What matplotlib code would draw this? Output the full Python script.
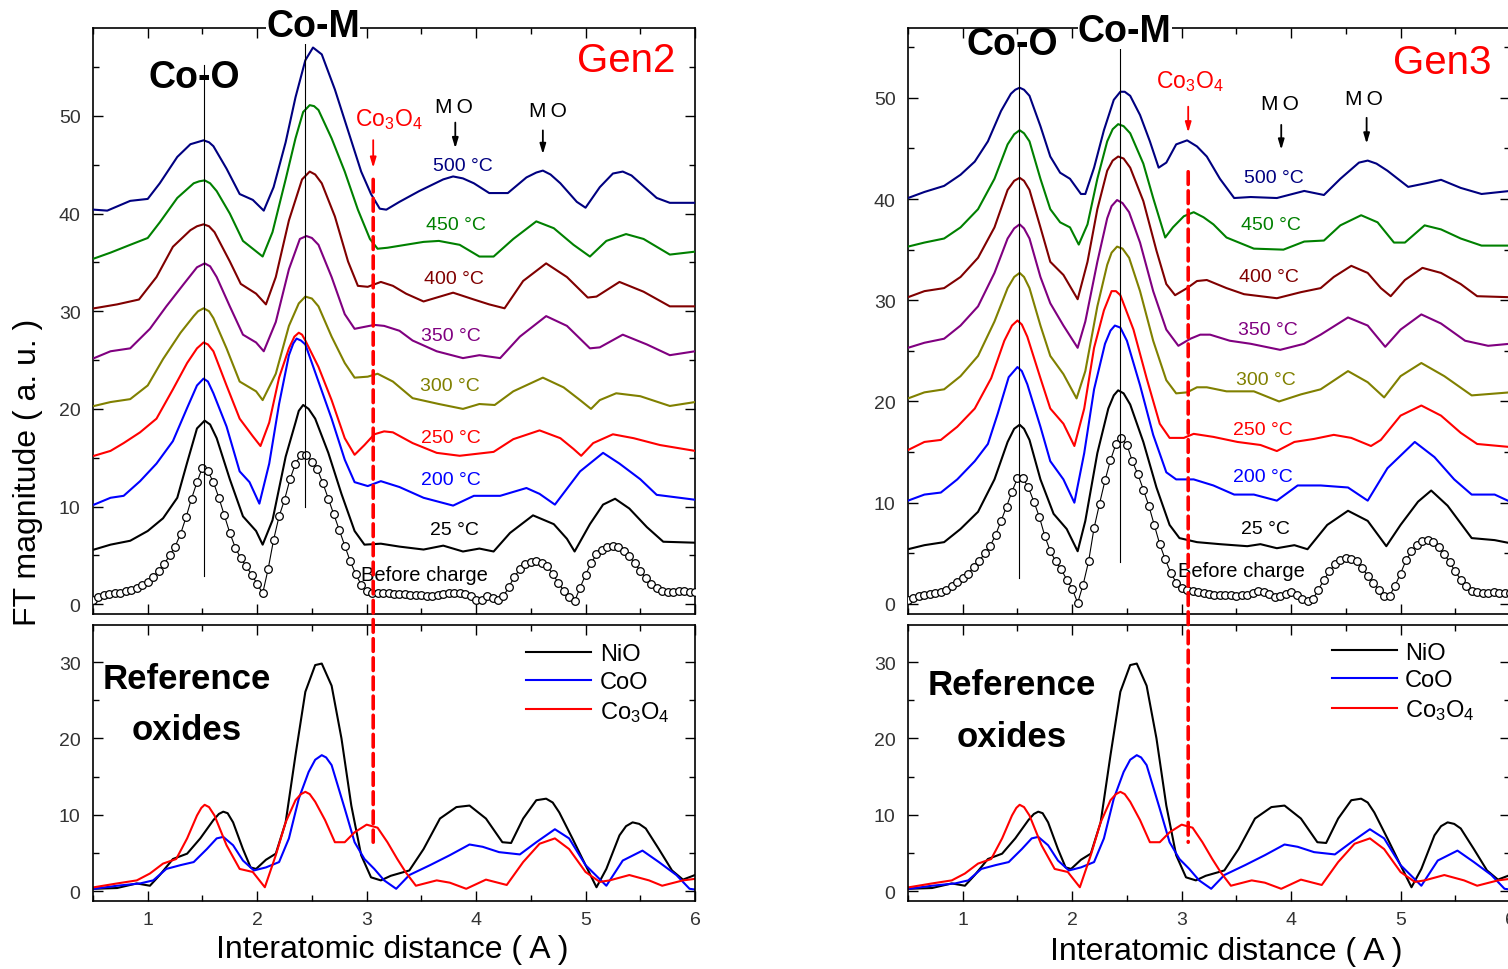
import matplotlib
matplotlib.use("Agg")
import matplotlib.pyplot as plt
from matplotlib.patches import ConnectionPatch
from matplotlib.ticker import MultipleLocator

plt.rcParams['font.family'] = ['Liberation Sans', 'DejaVu Sans']
plt.rcParams['mathtext.fontset'] = 'custom'
plt.rcParams['mathtext.rm'] = 'Liberation Sans'
plt.rcParams['mathtext.it'] = 'Liberation Sans:italic'
plt.rcParams['mathtext.bf'] = 'Liberation Sans:bold'

# ---------------- data ----------------
temps = ["500", "450", "400", "350", "300", "250", "200", "25"]
colors = ["#000080", "#008000", "#800000", "#800080", "#808000", "#ff0000", "#0000ff", "#000000"]

# Gen2 (x in A, FT magnitude with vertical offsets as plotted)
g2_500 = [(0.51,40.4),(0.63,40.3),(0.84,41.3),(1.00,41.5),(1.11,43.1),(1.27,45.8),(1.39,47.1),(1.45,47.3),(1.51,47.5),(1.56,47.3),(1.60,46.9),(1.72,44.6),(1.84,42.0),(1.96,41.4),(2.06,40.3),(2.15,42.7),(2.26,47.3),(2.35,51.9),(2.44,55.7),(2.51,57.0),(2.59,56.3),(2.71,52.7),(2.83,48.5),(2.95,44.3),(3.04,42.0),(3.12,40.5),(3.18,40.4),(3.30,41.2),(3.48,42.3),(3.70,43.5),(3.79,43.8),(3.88,43.6),(3.98,43.1),(4.12,42.1),(4.29,42.1),(4.46,43.7),(4.55,44.2),(4.61,44.4),(4.68,44.0),(4.77,43.1),(4.92,41.2),(5.00,40.6),(5.13,42.7),(5.25,44.1),(5.34,44.3),(5.42,43.9),(5.50,43.1),(5.65,41.6),(5.77,41.1),(6.00,41.1)]
g2_450 = [(0.51,35.4),(0.66,36.0),(0.84,36.8),(1.00,37.5),(1.11,39.1),(1.27,41.6),(1.42,43.1),(1.47,43.3),(1.52,43.4),(1.57,43.1),(1.63,42.3),(1.75,40.0),(1.87,37.2),(1.96,36.4),(2.05,35.6),(2.14,38.1),(2.26,43.5),(2.35,47.7),(2.42,50.4),(2.48,51.1),(2.52,51.0),(2.56,50.6),(2.68,47.7),(2.80,44.3),(2.92,40.4),(3.03,37.4),(3.10,36.4),(3.19,36.5),(3.30,36.7),(3.52,37.1),(3.66,37.2),(3.85,36.8),(4.03,35.6),(4.16,35.6),(4.34,37.4),(4.55,39.2),(4.71,38.5),(4.89,36.8),(5.04,35.6),(5.19,37.2),(5.37,37.9),(5.53,37.4),(5.77,35.8),(6.00,36.1)]
g2_400 = [(0.51,30.3),(0.72,30.7),(0.92,31.2),(1.08,33.5),(1.23,36.6),(1.39,38.3),(1.45,38.7),(1.51,38.9),(1.56,38.7),(1.61,38.1),(1.75,35.1),(1.85,32.8),(1.99,31.8),(2.08,30.7),(2.17,33.5),(2.29,39.3),(2.41,43.5),(2.48,44.3),(2.53,44.0),(2.59,43.1),(2.71,39.7),(2.83,35.1),(2.92,32.6),(3.01,32.5),(3.13,33.0),(3.24,32.6),(3.36,31.8),(3.52,31.0),(3.79,31.9),(3.98,31.2),(4.12,30.7),(4.26,30.3),(4.43,33.1),(4.64,34.9),(4.83,33.5),(5.02,31.4),(5.10,31.5),(5.31,33.0),(5.53,32.0),(5.77,30.5),(6.00,30.5)]
g2_350 = [(0.51,25.2),(0.66,25.9),(0.84,26.2),(1.02,28.2),(1.17,30.5),(1.33,32.8),(1.45,34.5),(1.52,34.9),(1.57,34.6),(1.63,33.5),(1.75,30.5),(1.87,27.6),(1.99,26.8),(2.06,25.9),(2.17,28.9),(2.29,34.3),(2.39,37.4),(2.45,37.7),(2.50,37.5),(2.56,36.8),(2.68,33.5),(2.80,29.7),(2.89,28.2),(2.98,28.4),(3.07,28.6),(3.16,28.5),(3.30,28.0),(3.42,27.0),(3.64,25.9),(3.88,25.2),(4.03,25.5),(4.22,25.2),(4.40,27.4),(4.64,29.5),(4.83,28.5),(5.04,26.2),(5.13,26.3),(5.34,27.6),(5.56,26.6),(5.77,25.5),(6.00,25.9)]
g2_300 = [(0.51,20.3),(0.66,20.7),(0.84,21.0),(1.00,22.4),(1.14,25.1),(1.30,27.8),(1.42,29.5),(1.46,30.0),(1.51,30.3),(1.56,30.0),(1.60,29.3),(1.72,26.2),(1.84,22.8),(1.99,21.8),(2.05,20.9),(2.17,23.6),(2.29,28.5),(2.38,30.8),(2.44,31.5),(2.50,31.3),(2.56,30.5),(2.68,27.4),(2.80,24.7),(2.89,23.2),(3.01,23.3),(3.10,23.6),(3.24,22.8),(3.42,21.1),(3.66,20.5),(3.88,20.0),(4.03,20.5),(4.17,20.4),(4.34,21.8),(4.61,23.2),(4.80,22.2),(4.95,20.9),(5.05,20.0),(5.13,20.9),(5.28,21.6),(5.50,21.3),(5.77,20.3),(6.00,20.7)]
g2_250 = [(0.51,15.2),(0.66,15.7),(0.78,16.5),(0.93,17.6),(1.08,19.0),(1.23,22.0),(1.36,24.7),(1.45,26.2),(1.51,26.8),(1.55,26.6),(1.60,25.9),(1.72,22.4),(1.84,19.0),(1.96,17.2),(2.03,16.2),(2.11,18.6),(2.20,23.2),(2.29,26.2),(2.34,27.4),(2.38,27.8),(2.41,27.6),(2.44,27.0),(2.56,24.3),(2.68,20.9),(2.80,17.0),(2.89,15.3),(2.98,16.3),(3.07,17.4),(3.16,17.7),(3.24,17.6),(3.42,16.5),(3.64,15.5),(3.85,15.2),(4.16,15.6),(4.34,16.9),(4.58,17.8),(4.77,17.0),(4.89,15.9),(4.96,15.2),(5.07,16.5),(5.25,17.4),(5.44,17.0),(5.68,16.3),(6.00,15.7)]
g2_200 = [(0.51,10.2),(0.66,10.9),(0.78,11.1),(0.93,12.6),(1.08,14.4),(1.23,16.7),(1.36,20.1),(1.45,22.4),(1.51,23.1),(1.55,22.8),(1.60,21.6),(1.72,18.2),(1.84,13.6),(1.93,12.5),(2.02,10.3),(2.11,14.4),(2.20,20.5),(2.29,25.5),(2.33,26.7),(2.36,27.2),(2.40,27.0),(2.44,26.6),(2.56,22.8),(2.68,19.0),(2.80,14.8),(2.89,12.5),(3.01,12.1),(3.13,12.6),(3.30,12.0),(3.52,10.9),(3.79,10.1),(3.98,11.1),(4.22,11.1),(4.46,11.9),(4.58,11.3),(4.72,10.2),(4.95,13.6),(5.16,15.5),(5.31,14.4),(5.50,12.8),(5.65,11.2),(6.00,10.7)]
g2_25 = [(0.51,5.6),(0.66,6.1),(0.84,6.5),(1.00,7.5),(1.14,8.8),(1.27,10.9),(1.36,14.5),(1.45,18.0),(1.52,18.8),(1.57,18.4),(1.63,17.0),(1.75,12.8),(1.87,9.0),(1.99,7.5),(2.05,6.1),(2.14,8.6),(2.26,15.1),(2.35,18.6),(2.38,19.8),(2.42,20.4),(2.47,20.0),(2.53,19.0),(2.65,15.5),(2.77,11.3),(2.89,7.5),(2.98,6.1),(3.13,6.2),(3.30,5.9),(3.52,5.6),(3.70,6.0),(3.88,5.4),(4.03,5.7),(4.16,5.4),(4.31,7.3),(4.52,9.1),(4.71,8.2),(4.83,6.7),(4.90,5.4),(5.04,8.2),(5.16,10.2),(5.27,10.8),(5.40,9.8),(5.56,7.9),(5.71,6.4),(6.00,6.3)]
g2_curves = [g2_500, g2_450, g2_400, g2_350, g2_300, g2_250, g2_200, g2_25]

bc_x = [0.50,0.55,0.60,0.65,0.70,0.75,0.80,0.85,0.90,0.95,1.00,1.05,1.10,1.15,1.20,1.25,1.30,1.35,1.40,1.45,
        1.50,1.55,1.60,1.65,1.70,1.75,1.80,1.85,1.90,1.95,2.00,2.05,2.10,2.15,2.20,2.25,2.30,2.35,2.40,2.45,
        2.50,2.55,2.60,2.65,2.70,2.75,2.80,2.85,2.90,2.95,3.00,3.05,3.10,3.15,3.20,3.25,3.30,3.35,3.40,3.45,
        3.50,3.55,3.60,3.65,3.70,3.75,3.80,3.85,3.90,3.95,4.00,4.05,4.10,4.15,4.20,4.25,4.30,4.35,4.40,4.45,
        4.50,4.55,4.60,4.65,4.70,4.75,4.80,4.85,4.90,4.95,5.00,5.05,5.10,5.15,5.20,5.25,5.30,5.35,5.40,5.45,
        5.50,5.55,5.60,5.65,5.70,5.75,5.80,5.85,5.90,5.95,6.00]
g2_before = [0.4,0.7,0.9,1.0,1.1,1.2,1.4,1.5,1.7,2.0,2.3,2.8,3.4,4.1,5.0,5.9,7.2,8.9,10.8,12.5,
             14.0,13.6,12.5,10.9,9.1,7.3,5.8,4.7,3.9,3.0,2.1,1.1,3.6,6.6,9.0,10.7,12.8,14.4,15.3,15.3,
             14.6,13.8,12.4,10.8,9.2,7.6,6.0,4.4,3.1,2.0,1.4,1.1,1.1,1.1,1.1,1.0,1.0,1.0,0.9,0.9,
             0.9,0.8,0.8,0.9,1.0,1.1,1.1,1.1,1.0,0.8,0.4,0.4,0.8,0.6,0.4,0.8,1.8,2.8,3.6,4.1,
             4.3,4.4,4.2,3.9,3.1,2.2,1.4,0.7,0.3,1.7,3.0,4.2,5.1,5.6,5.9,6.0,5.9,5.5,4.9,4.2,
             3.4,2.7,2.1,1.7,1.4,1.3,1.3,1.4,1.4,1.3,1.3]

# Gen3
g3_500 = [(0.50,40.1),(0.65,40.7),(0.83,41.3),(0.98,42.4),(1.11,43.7),(1.23,45.7),(1.35,48.7),(1.44,50.4),(1.48,50.8),(1.52,51.0),(1.56,50.8),(1.61,50.2),(1.71,47.2),(1.80,44.2),(1.89,42.6),(1.98,42.0),(2.08,40.5),(2.12,40.5),(2.20,43.1),(2.29,46.8),(2.38,49.8),(2.44,50.6),(2.48,50.6),(2.53,50.2),(2.62,48.3),(2.71,45.7),(2.79,43.1),(2.86,43.6),(2.95,45.4),(3.05,45.8),(3.14,45.2),(3.23,44.2),(3.35,42.0),(3.48,40.1),(3.63,40.2),(3.87,40.1),(4.12,40.8),(4.30,40.4),(4.45,42.0),(4.62,43.6),(4.70,43.8),(4.78,43.5),(4.88,42.8),(5.07,41.2),(5.25,41.6),(5.37,41.9),(5.55,41.1),(5.74,40.5),(6.00,40.8)]
g3_450 = [(0.50,35.3),(0.65,35.7),(0.83,36.1),(0.98,37.2),(1.14,39.0),(1.29,42.0),(1.41,45.4),(1.47,46.4),(1.52,46.8),(1.56,46.5),(1.61,45.7),(1.71,42.0),(1.80,39.0),(1.89,37.7),(1.98,37.2),(2.06,35.5),(2.14,37.5),(2.23,42.0),(2.32,45.7),(2.37,46.9),(2.42,47.4),(2.47,47.2),(2.53,46.5),(2.65,43.5),(2.74,40.1),(2.85,36.2),(2.92,37.2),(3.02,38.3),(3.11,38.7),(3.20,38.2),(3.29,37.5),(3.41,36.2),(3.66,35.1),(3.93,35.0),(4.12,35.8),(4.30,35.9),(4.45,37.4),(4.64,38.4),(4.79,37.7),(4.94,35.7),(5.04,35.7),(5.22,37.4),(5.37,37.0),(5.55,36.1),(5.74,35.4),(6.00,35.4)]
g3_400 = [(0.50,30.3),(0.65,30.9),(0.83,31.2),(0.98,32.3),(1.14,34.2),(1.29,37.2),(1.41,40.9),(1.47,41.8),(1.52,42.1),(1.56,41.8),(1.61,40.9),(1.71,37.2),(1.80,33.8),(1.92,32.5),(2.05,30.1),(2.14,33.8),(2.23,39.0),(2.32,42.8),(2.37,43.8),(2.42,44.2),(2.47,44.0),(2.53,43.1),(2.65,39.8),(2.77,34.9),(2.86,31.6),(2.94,30.5),(3.05,31.2),(3.14,31.9),(3.23,32.0),(3.41,31.2),(3.57,30.6),(3.87,30.2),(4.09,30.8),(4.27,31.2),(4.39,32.3),(4.55,33.4),(4.70,32.7),(4.82,31.2),(4.91,30.4),(5.04,32.0),(5.20,33.2),(5.37,32.7),(5.55,31.6),(5.70,30.4),(6.00,30.3)]
g3_350 = [(0.50,25.3),(0.65,25.8),(0.83,26.2),(0.98,27.5),(1.14,29.4),(1.29,32.7),(1.41,36.1),(1.47,37.1),(1.52,37.5),(1.56,37.1),(1.61,36.1),(1.71,32.3),(1.80,29.7),(1.92,27.5),(2.05,25.3),(2.12,27.9),(2.23,33.8),(2.32,38.1),(2.36,39.3),(2.41,39.9),(2.46,39.6),(2.52,38.7),(2.62,35.7),(2.74,30.9),(2.86,27.1),(2.97,25.5),(3.08,26.2),(3.17,26.6),(3.26,26.6),(3.44,26.0),(3.63,25.7),(3.90,25.1),(4.12,25.7),(4.27,26.6),(4.52,28.3),(4.70,27.5),(4.86,25.4),(5.00,27.1),(5.19,28.6),(5.37,27.7),(5.59,26.0),(5.80,25.5),(6.00,25.7)]
g3_300 = [(0.50,20.3),(0.65,20.9),(0.83,21.2),(0.98,22.5),(1.14,24.5),(1.29,27.9),(1.41,31.2),(1.47,32.3),(1.52,32.7),(1.56,32.3),(1.61,31.2),(1.71,27.5),(1.80,24.5),(1.92,22.7),(2.04,20.3),(2.12,23.0),(2.23,29.4),(2.32,33.5),(2.36,34.7),(2.41,35.3),(2.46,35.1),(2.52,34.2),(2.62,30.9),(2.74,26.0),(2.86,22.1),(2.95,20.8),(3.05,20.9),(3.14,21.4),(3.23,21.4),(3.41,21.0),(3.66,21.0),(3.89,20.0),(4.09,20.7),(4.27,21.2),(4.52,23.0),(4.70,21.9),(4.85,20.4),(5.00,22.5),(5.19,23.8),(5.40,22.5),(5.65,20.6),(6.00,20.9)]
g3_250 = [(0.50,15.2),(0.65,16.0),(0.80,16.2),(0.95,17.5),(1.11,19.3),(1.26,22.3),(1.38,26.0),(1.45,27.5),(1.50,28.0),(1.54,27.6),(1.59,26.4),(1.71,22.3),(1.80,19.3),(1.92,17.8),(2.02,15.6),(2.11,19.3),(2.20,25.3),(2.29,29.0),(2.36,30.9),(2.40,30.9),(2.44,30.5),(2.56,27.1),(2.68,22.3),(2.80,17.8),(2.89,16.4),(3.02,16.4),(3.11,16.8),(3.29,16.5),(3.51,16.0),(3.72,15.7),(3.87,15.1),(4.03,16.0),(4.21,16.3),(4.39,16.7),(4.55,16.4),(4.73,15.6),(4.82,16.2),(5.00,18.6),(5.19,19.6),(5.37,18.6),(5.55,16.9),(5.70,15.8),(6.00,15.5)]
g3_200 = [(0.50,10.2),(0.65,10.8),(0.80,11.0),(0.95,12.3),(1.11,14.1),(1.23,15.8),(1.32,18.8),(1.42,22.4),(1.50,23.4),(1.54,23.0),(1.59,21.7),(1.71,17.5),(1.80,14.1),(1.92,12.3),(2.02,10.0),(2.11,14.9),(2.20,21.2),(2.30,25.7),(2.35,27.0),(2.39,27.5),(2.44,27.3),(2.50,26.0),(2.62,21.6),(2.74,16.7),(2.86,13.0),(2.95,12.3),(3.11,12.3),(3.29,11.7),(3.48,10.8),(3.66,10.8),(3.87,10.2),(4.06,11.7),(4.27,11.7),(4.52,11.5),(4.70,10.2),(4.88,13.4),(5.13,16.0),(5.31,14.5),(5.49,12.3),(5.65,10.8),(5.86,10.8),(6.00,10.1)]
g3_25 = [(0.50,5.4),(0.65,5.8),(0.83,6.1),(0.98,7.4),(1.14,9.1),(1.29,12.3),(1.41,16.0),(1.47,17.3),(1.52,17.7),(1.56,17.3),(1.61,16.2),(1.71,12.3),(1.83,8.9),(1.95,7.4),(2.05,5.2),(2.12,8.2),(2.23,14.9),(2.33,19.3),(2.38,20.6),(2.42,21.1),(2.47,20.8),(2.53,19.7),(2.65,16.0),(2.77,11.5),(2.89,7.8),(2.98,6.5),(3.14,6.1),(3.35,5.9),(3.60,5.7),(3.72,5.9),(3.87,5.5),(4.03,5.8),(4.15,5.4),(4.33,7.8),(4.52,9.2),(4.70,8.2),(4.87,5.7),(5.00,7.8),(5.16,10.1),(5.28,11.2),(5.43,9.7),(5.65,6.5),(5.86,6.3),(6.00,6.0)]
g3_curves = [g3_500, g3_450, g3_400, g3_350, g3_300, g3_250, g3_200, g3_25]

g3_before = [0.4,0.6,0.8,0.9,1.0,1.1,1.2,1.4,1.8,2.2,2.6,3.0,3.6,4.2,5.0,5.7,6.8,8.2,9.6,11.1,
             12.4,12.4,11.5,10.1,8.6,6.7,5.2,4.2,3.4,2.4,1.5,0.1,1.9,4.2,7.5,9.9,12.2,14.2,15.8,16.4,
             15.7,14.1,12.8,11.3,9.7,7.8,5.9,4.4,3.1,2.1,1.6,1.4,1.3,1.2,1.1,1.0,0.9,0.9,0.9,0.9,
             0.8,0.9,0.9,1.1,1.3,1.2,1.0,0.7,0.8,1.0,1.2,0.9,0.5,0.3,0.5,1.4,2.4,3.2,3.9,4.3,
             4.5,4.4,4.2,3.5,2.8,2.1,1.4,0.8,0.8,1.8,3.0,4.3,5.2,5.8,6.2,6.3,6.1,5.6,4.9,4.1,
             3.2,2.4,1.8,1.3,1.2,1.1,1.1,1.2,1.1,1.1,1.1]

# reference oxides (same in both lower panels)
nio = [(0.51,0.3),(0.72,0.4),(0.90,1.0),(1.02,0.7),(1.11,2.1),(1.23,4.2),(1.36,4.9),(1.48,6.9),(1.60,9.3),(1.65,10.1),(1.69,10.4),(1.73,10.2),(1.78,9.0),(1.87,5.5),(1.94,3.1),(1.99,2.9),(2.08,4.1),(2.17,4.9),(2.26,9.0),(2.35,17.8),(2.44,26.1),(2.53,29.6),(2.59,29.8),(2.68,26.9),(2.77,20.0),(2.86,11.2),(2.95,4.7),(3.04,1.8),(3.13,1.4),(3.22,2.0),(3.39,2.7),(3.52,5.5),(3.67,9.5),(3.82,11.0),(3.94,11.2),(4.09,9.5),(4.24,6.4),(4.32,6.3),(4.43,9.5),(4.55,11.9),(4.64,12.1),(4.70,11.6),(4.76,10.3),(4.88,6.9),(5.00,3.4),(5.10,0.5),(5.19,2.9),(5.31,7.3),(5.37,8.5),(5.43,9.0),(5.49,8.8),(5.55,8.2),(5.67,5.5),(5.79,2.7),(5.89,1.5),(6.00,2.1)]
coo = [(0.51,0.3),(0.72,0.7),(0.93,1.0),(1.05,1.4),(1.17,2.9),(1.30,3.4),(1.42,3.8),(1.54,5.5),(1.63,6.9),(1.69,7.1),(1.78,6.0),(1.87,4.0),(1.97,2.7),(2.08,3.1),(2.20,3.8),(2.29,6.9),(2.38,12.1),(2.47,15.6),(2.53,17.2),(2.59,17.8),(2.63,17.5),(2.68,16.5),(2.80,10.8),(2.89,6.4),(2.98,4.2),(3.07,2.9),(3.16,1.4),(3.27,0.3),(3.39,2.1),(3.58,3.4),(3.76,4.7),(3.94,6.1),(4.06,5.8),(4.21,5.1),(4.40,4.8),(4.55,6.4),(4.72,8.1),(4.85,6.9),(5.00,3.4),(5.19,0.7),(5.34,4.0),(5.52,5.3),(5.67,3.8),(5.83,2.1),(5.95,0.3),(6.00,0.2)]
co3o4 = [(0.51,0.5),(0.72,1.0),(0.90,1.4),(1.02,2.3),(1.14,3.6),(1.26,4.2),(1.36,6.9),(1.45,9.9),(1.49,10.9),(1.52,11.3),(1.56,11.0),(1.61,9.9),(1.72,6.0),(1.84,2.9),(1.96,2.5),(2.07,0.5),(2.17,4.7),(2.26,9.0),(2.35,11.9),(2.40,12.7),(2.44,13.0),(2.48,12.7),(2.53,11.7),(2.62,9.3),(2.71,6.4),(2.80,6.4),(2.89,7.7),(3.00,8.7),(3.10,8.3),(3.19,6.4),(3.28,4.2),(3.36,2.4),(3.45,0.7),(3.64,1.4),(3.76,1.1),(3.91,0.3),(4.09,1.5),(4.28,0.8),(4.43,3.8),(4.58,6.2),(4.72,6.9),(4.85,5.5),(5.00,2.5),(5.13,1.2),(5.22,1.4),(5.40,2.1),(5.58,1.4),(5.70,0.7),(5.89,1.4),(6.00,1.6)]
ref_curves = [nio, coo, co3o4]
ref_names = ["NiO", "CoO", "Co$_\\mathrm{3}$O$_\\mathrm{4}$"]
ref_colors = ["#000000", "#0000ff", "#ff0000"]


def style_axis(ax, ylim, xlabels):
    ax.set_xlim(0.5, 6)
    ax.set_ylim(*ylim)
    ax.xaxis.set_major_locator(MultipleLocator(1))
    ax.xaxis.set_minor_locator(MultipleLocator(0.5))
    ax.yaxis.set_major_locator(MultipleLocator(10))
    ax.yaxis.set_minor_locator(MultipleLocator(5))
    ax.tick_params(which='both', direction='in', top=True, right=True,
                   labelsize=14, labelcolor='#333333', width=1.0)
    ax.tick_params(which='major', length=7)
    ax.tick_params(which='minor', length=4)
    ax.tick_params(axis='y', pad=9)
    ax.tick_params(axis='x', pad=7)
    if not xlabels:
        ax.tick_params(labelbottom=False)
    for s in ax.spines.values():
        s.set_linewidth(1.2)


def draw_panel(ax, bx, curves, before, lab):
    for pts, c in zip(curves, colors):
        xs, ys = zip(*pts)
        ax.plot(xs, ys, color=c, lw=1.5, zorder=3, solid_joinstyle='round')
    ax.plot(bc_x, before, color='black', lw=0.8, marker='o', ms=5.5,
            mfc='white', mec='black', mew=0.9, zorder=3)

    # peak guide lines
    ax.plot([1.51, 1.51], lab['coo_line'], color='black', lw=0.8, zorder=4)
    ax.plot([2.44, 2.44], lab['com_line'], color='black', lw=0.8, zorder=4)

    ax.text(*lab['coo'], "Co-O", fontsize=27, fontweight='bold', ha='center', va='center', zorder=2)
    ax.text(*lab['com'], "Co-M", fontsize=27, fontweight='bold', ha='center', va='center', zorder=6,
            clip_on=False, bbox=dict(facecolor='white', edgecolor='none', pad=0))
    ax.text(*lab['gen'], lab['gen_txt'], fontsize=29, color='#ff0000', ha='center', va='center')

    # Co3O4 marker
    ax.text(*lab['co3o4'], "Co$_\\mathrm{3}$O$_\\mathrm{4}$", fontsize=16.5, color='#ff0000',
            ha='center', va='center')
    ax.annotate('', xy=(3.06, lab['co3o4_arrow'][1]), xytext=(3.06, lab['co3o4_arrow'][0]),
                arrowprops=dict(arrowstyle='-|>,head_length=0.6,head_width=0.18', color='#ff0000', lw=1.3))

    # MO markers
    for (tx, ty), (ax_x, a0, a1) in zip(lab['mo'], lab['mo_arrows']):
        ax.text(tx, ty, "M\u2009O", fontsize=15, ha='center', va='center')
        ax.annotate('', xy=(ax_x, a1), xytext=(ax_x, a0),
                    arrowprops=dict(arrowstyle='-|>,head_length=0.6,head_width=0.18', color='black', lw=1.3))

    for t, c, (tx, ty) in zip(temps, colors, lab['temps']):
        ax.text(tx, ty, t + " °C", fontsize=14, color=c, ha='center', va='center', zorder=5)
    ax.text(*lab['before'], "Before charge", fontsize=14.5, ha='center', va='center', zorder=5)

    # reference oxides
    for pts, c, n in zip(ref_curves, ref_colors, ref_names):
        xs, ys = zip(*pts)
        bx.plot(xs, ys, color=c, lw=1.5, label=n, solid_joinstyle='round')
    bx.text(lab['ref'][0], lab['ref'][1], "Reference", fontsize=25, fontweight='bold', ha='center', va='center')
    bx.text(lab['ref'][0], lab['ref'][2], "oxides", fontsize=25, fontweight='bold', ha='center', va='center')
    bx.legend(loc='upper left', bbox_to_anchor=lab['leg'], frameon=False, fontsize=17,
              handlelength=2.75, handletextpad=0.35, labelspacing=0.25, borderpad=0, borderaxespad=0)

    con = ConnectionPatch(xyA=(3.06, lab['dash_top']), coordsA=ax.transData,
                          xyB=(3.06, 6.4), coordsB=bx.transData,
                          color='#ff0000', lw=2.6, linestyle=(0, (3.5, 1.8)), zorder=7)
    ax.figure.add_artist(con)


fig = plt.figure(figsize=(15.08, 9.70), dpi=100)
W = 602 / 1508
ax1 = fig.add_axes([93 / 1508, 1 - 615 / 970, W, 586 / 970])
bx1 = fig.add_axes([93 / 1508, 1 - 902 / 970, W, 276 / 970])
ax2 = fig.add_axes([908 / 1508, 1 - 615 / 970, W, 586 / 970])
bx2 = fig.add_axes([908 / 1508, 1 - 902 / 970, W, 276 / 970])

style_axis(ax1, (-1.0, 59.0), False)
style_axis(ax2, (-1.0, 56.9), False)
style_axis(bx1, (-1.3, 34.85), True)
style_axis(bx2, (-1.3, 34.85), True)

lab2 = dict(coo_line=[2.9, 55.2], com_line=[10.0, 58.0], coo=(1.43, 54.0), com=(2.51, 59.2),
            gen=(5.37, 55.7), gen_txt="Gen2", co3o4=(3.2, 49.7), co3o4_arrow=(47.8, 44.4),
            mo=[(3.80, 51.0), (4.66, 50.6)], mo_arrows=[(3.81, 49.6, 46.4), (4.61, 48.8, 45.8)],
            temps=[(3.88, 44.9), (3.82, 38.9), (3.80, 33.4), (3.77, 27.5), (3.76, 22.4),
                   (3.77, 17.1), (3.77, 12.8), (3.80, 7.7)],
            before=(3.53, 3.0), ref=(1.36, 27.8, 21.1), leg=(0.72, 0.935), dash_top=43.5)
lab3 = dict(coo_line=[2.6, 55.4], com_line=[4.1, 56.9], coo=(1.45, 55.3), com=(2.48, 56.6),
            gen=(5.38, 53.5), gen_txt="Gen3", co3o4=(3.07, 51.7), co3o4_arrow=(49.4, 46.3),
            mo=[(3.90, 49.4), (4.67, 49.9)], mo_arrows=[(3.91, 47.6, 44.6), (4.69, 48.3, 45.2)],
            temps=[(3.84, 42.1), (3.82, 37.5), (3.80, 32.3), (3.79, 27.1), (3.77, 22.2),
                   (3.74, 17.2), (3.74, 12.6), (3.77, 7.4)],
            before=(3.55, 3.3), ref=(1.45, 27.1, 20.2), leg=(0.704, 0.94), dash_top=42.7)

draw_panel(ax1, bx1, g2_curves, g2_before, lab2)
draw_panel(ax2, bx2, g3_curves, g3_before, lab3)

fig.text(28 / 1508, 1 - 472 / 970, "FT magnitude ( a. u. )", rotation=90, fontsize=23,
         ha='center', va='center')
fig.text(392 / 1508, 1 - 950 / 970, "Interatomic distance ( A )", fontsize=23, ha='center', va='center')
fig.text(1226 / 1508, 1 - 952 / 970, "Interatomic distance ( A )", fontsize=23, ha='center', va='center')

fig.savefig("out.png", dpi=100)
